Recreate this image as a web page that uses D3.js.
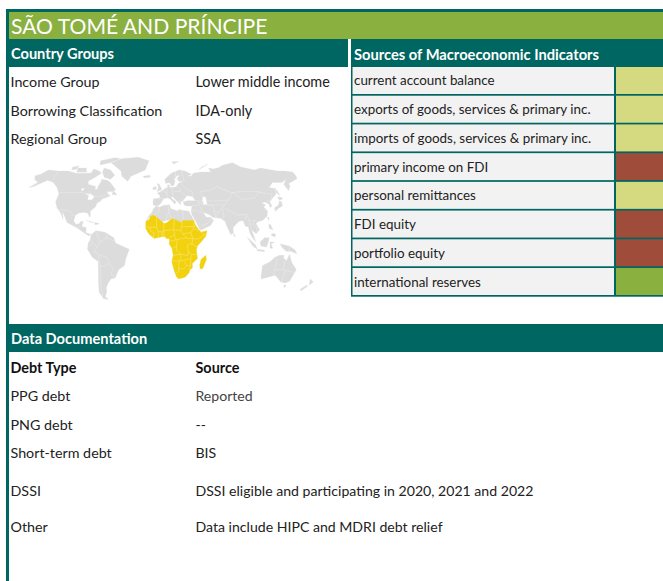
<!DOCTYPE html>
<html>
<head>
<meta charset="utf-8">
<script src="https://cdn.jsdelivr.net/npm/d3@7"></script>
<style>
html, body { margin: 0; padding: 0; background: #fff; overflow: hidden; }
svg { display: block; }
text { font-family: Lato, "Open Sans", sans-serif; fill: #222; dominant-baseline: central; }
</style>
</head>
<body>
<svg id="sheet" width="663" height="581"></svg>
<script>
const TITLE = "SÃO TOMÉ AND PRÍNCIPE"

const groupLabels = ["Income Group", "Borrowing Classification", "Regional Group"]
const groupValues = ["Lower middle income", "IDA-only", "SSA"]

const indicators = ["current account balance", "exports of goods, services & primary inc.",
    "imports of goods, services & primary inc.", "primary income on FDI", "personal remittances",
    "FDI equity", "portfolio equity", "international reserves"]
const indicatorStatus = ["mid", "mid", "mid", "low", "mid", "low", "low", "high"]
const statusLevels = ["low", "mid", "high"]
const statusColors = ["#9f4c3b", "#d5d97f", "#8ab040"]

const debtTypes = ["PPG debt", "PNG debt", "Short-term debt", "DSSI", "Other"]
const debtSources = ["Reported", "--", "BIS", "DSSI eligible and participating in 2020, 2021 and 2022",
    "Data include HIPC and MDRI debt relief"]

// rough outlines, lon/lat
const northAmerica = [[-168,65.5],[-162,67],[-156,71],[-141,70],[-128,70],[-115,68],[-108,68],[-95,68],[-94,72],[-85,70],[-81,68],[-87,64],[-94,60],[-92,57],[-82,55],[-82,52],[-79,52],[-79,55],[-77,60],[-78,62],[-70,61],[-65,59],[-60,55],[-56,52],[-60,50],[-66,50],[-65,48],[-61,46],[-66,44],[-70,43],[-71,41],[-75,39],[-76,35],[-81,31],[-80,26],[-81,25],[-83,29],[-89,30],[-94,29],[-97,27],[-98,22],[-95,18],[-91,19],[-90,21],[-87,21],[-88,16],[-83,15],[-83,10],[-79,9],[-77,8],[-80,7],[-85,10],[-92,14],[-96,16],[-105,20],[-109,26],[-113,31],[-110,23],[-115,30],[-120,34],[-124,40],[-124,48],[-130,54],[-138,59],[-147,61],[-152,59],[-160,55],[-165,54],[-158,59],[-165,62]]
const southAmerica = [[-77,8],[-72,12],[-62,10.5],[-52,5],[-50,0],[-44,-2.5],[-35,-6],[-39,-15],[-41,-22],[-48,-26],[-53,-34],[-58,-35],[-62,-39],[-65,-43],[-66,-48],[-69,-52],[-66,-55],[-72,-54],[-75,-48],[-73,-38],[-71,-28],[-70,-18],[-76,-14],[-81,-6],[-80,0],[-78,3]]
const greenland = [[-73,78],[-60,82],[-35,83.5],[-18,80],[-22,71],[-40,65],[-43,60],[-52,65],[-55,70],[-68,76]]
const northAfrica = [[-17,21],[-13,27.5],[-10,30],[-9,33],[-6,35.8],[-2,35],[4,36.8],[10,37.2],[11,33.5],[15,32.3],[20,31],[20,32.8],[25,31.7],[32,31],[32.5,29.5],[34,27],[37,22],[24,19.5],[12,23],[1,21],[-8,27],[-12,26]]
const eurasia = [[-9,37],[-9.5,39],[-9,43],[-2,43.5],[-1,46],[-4.5,48.5],[2,51],[5,53],[8,54],[8.5,57],[11,56],[10,54],[14,54],[19,54.5],[21,57],[24,59],[30,60],[23,60],[21,63],[25,65.5],[22,66],[17,62],[18,60],[16,56],[13,55.5],[11,59],[6,58],[5,62],[14,68],[25,71],[33,70],[41,67],[35,65],[40,65],[44,68],[54,69],[68,69],[67,73],[73,72],[80,73],[90,76],[105,78],[113,74],[130,71],[140,73],[160,70],[170,70],[180,69],[180,65],[178,62.5],[170,60],[163,58],[162,55],[157,51],[156,57],[163,62],[155,59],[143,59],[135,54],[141,53],[140,48],[132,43],[128,40],[129,36],[126.5,34.5],[126,38],[122,40],[118,39],[122,37],[119,35],[122,31],[120,26],[114,22],[109,21],[106,19],[109,13],[105,9],[100,13],[103,5],[104,1.5],[100,6],[98,10],[97,16],[94,16],[92,22],[87,21],[80,15],[80,10],[77,8],[73,17],[72,21],[67,24],[58,25],[56,27],[51,29],[48,30],[51,25],[56,25],[59,22],[55,17],[45,13],[43,13],[39,21],[35,28],[34.5,31],[36,36],[30,36],[27,37],[26,40],[31,41],[41,41],[38,45],[34,46],[31,46],[28,43],[26,41],[23,40],[23,37],[20,40],[14,45],[12,44],[18,40],[16,38],[12,42],[8,44],[3,43],[0,39],[-2,37],[-5,36]]
const otherIslands = [
    [[-80,73],[-70,71],[-62,66],[-66,62],[-75,64],[-80,69]],
    [[-90,80],[-70,83],[-62,82],[-75,78],[-88,76]],
    [[-117,73],[-105,73],[-102,69],[-115,69]],
    [[-125,74],[-117,75],[-118,72],[-124,71]],
    [[-59,51],[-53,47],[-59,47]],
    [[-84,22],[-75,20],[-78,20],[-83,22]],
    [[-74,20],[-69,19],[-71,18],[-74,18]],
    [[-24,65],[-15,66],[-14,64],[-22,63.5]],
    [[-5,58],[-2,57],[1,52],[-5,50],[-3,54]],
    [[-10,54],[-6,55],[-6,52],[-10,52]],
    [[16,79],[26,79],[18,77]],
    [[52,71],[68,77],[58,74]],
    [[142,54],[143,50],[143,46],[141,49]],
    [[140,41],[142,40],[141,36],[136,34],[131,31],[131,34],[137,37]],
    [[140,45],[145,44],[143,42],[140,42]],
    [[120,25],[122,25],[121,22]],
    [[80,9.5],[82,7],[80.5,6]],
    [[120,18],[122,18],[124,13],[120,14]],
    [[122,9],[126,9],[126,6],[122,7]],
    [[95,5.5],[104,-2],[106,-6],[101,-3]],
    [[106,-6],[114,-7],[114,-8.5],[106,-7.5]],
    [[109,1],[114,5],[119,5],[118,1],[116,-4],[110,-3]],
    [[120,1],[125,1],[121,-1],[123,-5],[120,-5]],
    [[131,-1],[141,-3],[148,-7],[150,-10.5],[143,-8],[138,-8],[133,-4]],
    [[114,-22],[122,-18],[126,-14],[131,-12],[136,-12],[136,-15],[140,-17],[142,-11],[146,-19],[153,-26],[150,-37],[146,-39],[140,-38],[136,-35],[131,-31.5],[124,-33],[116,-35],[115,-32]],
    [[145,-41],[148,-41],[147,-43.5]],
    [[173,-35],[178,-38],[175,-41],[174,-38]],
    [[172,-41],[174,-42],[169,-46.5],[167,-45]]
]
const lakes = [[[-92,48],[-85,48],[-80,45],[-82,42],[-87,42],[-87,46]], [[50,45],[53,45],[54,38],[50,37],[49,41]], [[-95,53],[-97,50],[-99,53]]]

const subSaharan = [[-17,21],[-13,23],[-12,26],[-8.7,27.3],[-4.8,25],[1,21],[3.3,19],[4.2,19.2],[6,19.5],[12,23.5],[15,23],[24,19.5],[24,22],[37,22],[38,18],[40,15],[43,12],[44,10.5],[51,12],[49,6],[44,1],[40,-3],[39,-7],[40.5,-15],[35,-20],[35.5,-24],[32.8,-26],[32,-29],[28,-33],[25,-34],[20,-34.8],[18,-33],[15,-27],[12,-18],[13.5,-12],[12,-5],[9,-1],[9.5,4],[6,4.3],[4,6.3],[1,6],[-4,5],[-7.5,4.3],[-13,8.5],[-15,11],[-17,14.5]]
const madagascar = [[49.5,-12],[50.5,-16],[47,-25],[44,-25],[43.5,-21],[44.5,-16]]
const caboVerde = [[-25,17],[-23,16],[-24,15]]

const africaBorders = [
    [[-12,15],[-5,15.5],[-5,25]], [[-17,16],[-12,15],[-12,12],[-8,10],[-8,4.5]],
    [[-5,15.5],[-3,11],[-3,5]], [[-3,11],[1,11],[1,6]], [[1,11],[3,12],[3.3,19]],
    [[3,12],[3,6.3]], [[3,12],[14,13],[15,23]], [[14,13],[15,8],[9,5]],
    [[14,13],[22,12],[24,19.5]], [[15,8],[16,3],[12,2],[10,2]], [[16,3],[18,3.5],[28,5],[35,4]],
    [[22,12],[24,9],[28,5]], [[24,9],[33,10],[36,14],[37,22]], [[24,16],[38,16]],
    [[33,10],[35,4],[41,4],[48,8],[44,10.5]], [[36,14],[43,12]], [[35,4],[34,-1],[40,-4]],
    [[34,-1],[30,-1],[29,-4],[30,-8],[34,-11.5],[40.5,-11]], [[18,3.5],[17,-3],[13,-5.5]],
    [[17,-3],[17,-7],[22,-11],[30,-12],[30,-8]], [[13.5,-12],[22,-11]], [[12,-17.5],[23,-17.5],[33,-15]],
    [[22,-11],[22,-17.5]], [[34,-11.5],[33,-15],[33,-22],[32,-26]], [[20,-17.5],[20,-28],[17,-29]],
    [[20,-25],[26,-25],[29,-22],[33,-22]], [[26,-18],[29,-22]]
]
const grayBorders = [
    [[-124,49],[-95,49],[-83,46],[-75,45],[-67,47]], [[-141,70],[-141,60]], [[-117,32.5],[-106,31.5],[-97,26]],
    [[-92,14.5],[-91,18]], [[-72,12],[-67,1],[-70,-4],[-74,-8],[-69,-11],[-69,-18]], [[-67,1],[-60,5],[-60,8]],
    [[-78,3],[-75,0],[-70,-4]], [[-80,-3],[-75,0]], [[-69,-11],[-60,-14],[-58,-20],[-54,-25],[-57,-30],[-53,-34]],
    [[-69,-18],[-68,-23],[-62,-22],[-58,-20]], [[-68,-23],[-71,-40],[-72,-52]], [[-60,5],[-52,2]],
    [[-8,27],[-2,32],[-2,35]], [[-8.7,27.3],[-13,27.5]], [[8,37],[9,30],[12,23]], [[9,30],[3.3,19]],
    [[25,31.7],[25,20]], [[25,22],[37,22]], [[10,33],[9,30]],
    [[-2,43.5],[3,43]], [[2,51],[7,49],[8,44]], [[7,49],[8,54]], [[14,54],[14,46],[14,45]], [[14,50],[24,50],[24,54]], [[24,50],[30,46]],
    [[20,40],[28,43]], [[24,59],[28,56],[32,52],[38,50],[38,46]], [[28,70],[30,60]], [[18,60],[20,69]],
    [[41,41],[47,41],[50,40]], [[36,36],[44,37],[48,30]], [[44,37],[44,40],[48,38]], [[48,38],[54,37],[61,36],[61,31],[62,25]],
    [[35,31],[39,32],[47,29]], [[45,17],[52,19],[55,22],[56,25]], [[54,37],[66,37],[74,37],[80,42],[70,41],[55,41],[54,45]],
    [[50,45],[47,50],[60,51],[70,55],[80,51],[87,49]], [[61,31],[66,30],[71,34],[74,37]], [[66,30],[62,25]],
    [[71,34],[71,25],[69,24]], [[74,34],[79,31],[88,27],[97,28],[94,22]], [[80,42],[87,49],[97,42],[112,44],[120,50],[117,50],[130,48],[135,48],[131,43]],
    [[87,49],[97,50],[106,50],[117,50]], [[97,28],[99,22],[105,22],[107,21]], [[99,22],[100,13]], [[105,22],[102,18],[106,16],[106,10]], [[124,40],[130,42]], [[126,38],[129,38.5]],
    [[141,-3],[141,-9]], [[129,-15],[129,-31.5]], [[138,-17],[138,-26],[129,-26]], [[141,-26],[141,-38]], [[138,-26],[153,-29]]
]

var svg = d3.select("#sheet");

var TEAL = "#006661", GREEN = "#8ab040";
var statusColor = d3.scaleOrdinal().domain(statusLevels).range(statusColors);

function box(x, y, w, h, fill) {
    return svg.append("rect").attr("x", x).attr("y", y).attr("width", w).attr("height", h).attr("fill", fill);
}
function label(x, y, str, size, fill, weight) {
    var t = svg.append("text").attr("x", x).attr("y", y).text(str)
        .attr("font-size", size).style("fill", fill || "#222");
    if (weight) t.attr("font-weight", weight);
    return t;
}

// frame and headers
box(6, 9, 657, 3, TEAL);
box(6, 9, 3, 572, TEAL);
box(9, 12, 654, 27, GREEN);
box(9, 39, 339, 28, TEAL);
box(351, 39, 312, 28, TEAL);
box(9, 324, 654, 28, TEAL);
label(11, 25, TITLE, 21.1, "#fff");
label(11, 53.5, "Country Groups", 14.6, "#fff", 700);
label(354, 53.5, "Sources of Macroeconomic Indicators", 14.7, "#fff", 700);
label(11, 338.5, "Data Documentation", 14.6, "#fff", 700);

// country groups
var groupY = d3.scalePoint().domain(groupLabels).range([81.5, 138.5]);
groupLabels.forEach(function (d, i) {
    label(10.5, groupY(d), d, 14.3);
    label(195.5, groupY(d), groupValues[i], 14.4);
});

// world map, flatter towards the poles than a plain plate carree
function worldRaw(lambda, phi) {
    return [lambda * (1 - 0.135 * phi * phi), 1.13 * phi];
}
var projection = d3.geoProjection(worldRaw).scale(52.1).translate([161, 243]);
var outline = d3.line().x(function (d) { return projection(d)[0]; })
                       .y(function (d) { return projection(d)[1]; });
var map = svg.append("g");
function land(rings, fill, stroke) {
    map.append("g").selectAll("path").data(rings).enter().append("path")
        .attr("d", function (d) { return outline(d) + "Z"; })
        .attr("fill", fill).attr("stroke", stroke || "none").attr("stroke-width", 0.3);
}
function borders(lines, color) {
    map.append("g").selectAll("path").data(lines).enter().append("path")
        .attr("d", outline).attr("fill", "none").attr("stroke", color).attr("stroke-width", 0.5);
}
land([northAmerica, southAmerica, greenland, northAfrica, eurasia].concat(otherIslands), "#dcdcdc", "#dcdcdc");
land(lakes, "#fff");
borders(grayBorders, "#ececec");
land([subSaharan, madagascar], "#f2d20f", "#f2d20f");
land([caboVerde], "#f8eeb0");
borders(africaBorders, "#f8e88e");

// indicator table
var rowY = d3.scaleBand().domain(indicators).range([67, 295]).paddingInner(0.06);
box(351, 67, 312, 229.7, TEAL);
var rows = svg.append("g").selectAll("g").data(indicators).enter().append("g");
rows.append("rect").attr("x", 352.5).attr("y", function (d) { return rowY(d); })
    .attr("width", 261.5).attr("height", rowY.bandwidth()).attr("fill", "#f2f2f2");
rows.append("rect").attr("x", 616).attr("y", function (d) { return rowY(d); })
    .attr("width", 47).attr("height", rowY.bandwidth())
    .attr("fill", function (d, i) { return statusColor(indicatorStatus[i]); });
rows.append("text").attr("x", 354).attr("y", function (d) { return rowY(d) + rowY.bandwidth() / 2; })
    .attr("font-size", 13.4).text(function (d) { return d; });

// data documentation
label(10.5, 367.5, "Debt Type", 14.4, "#111", 700);
label(195.5, 367.5, "Source", 14.4, "#111", 700);
var docY = d3.scaleOrdinal().domain(debtTypes).range([395.5, 424.5, 452.5, 490.5, 526.5]);
debtTypes.forEach(function (d, i) {
    label(10.5, docY(d), d, 14.3);
    label(195.5, docY(d), debtSources[i], 14.1, i == 0 ? "#444" : "#222");
});
</script>
</body>
</html>
